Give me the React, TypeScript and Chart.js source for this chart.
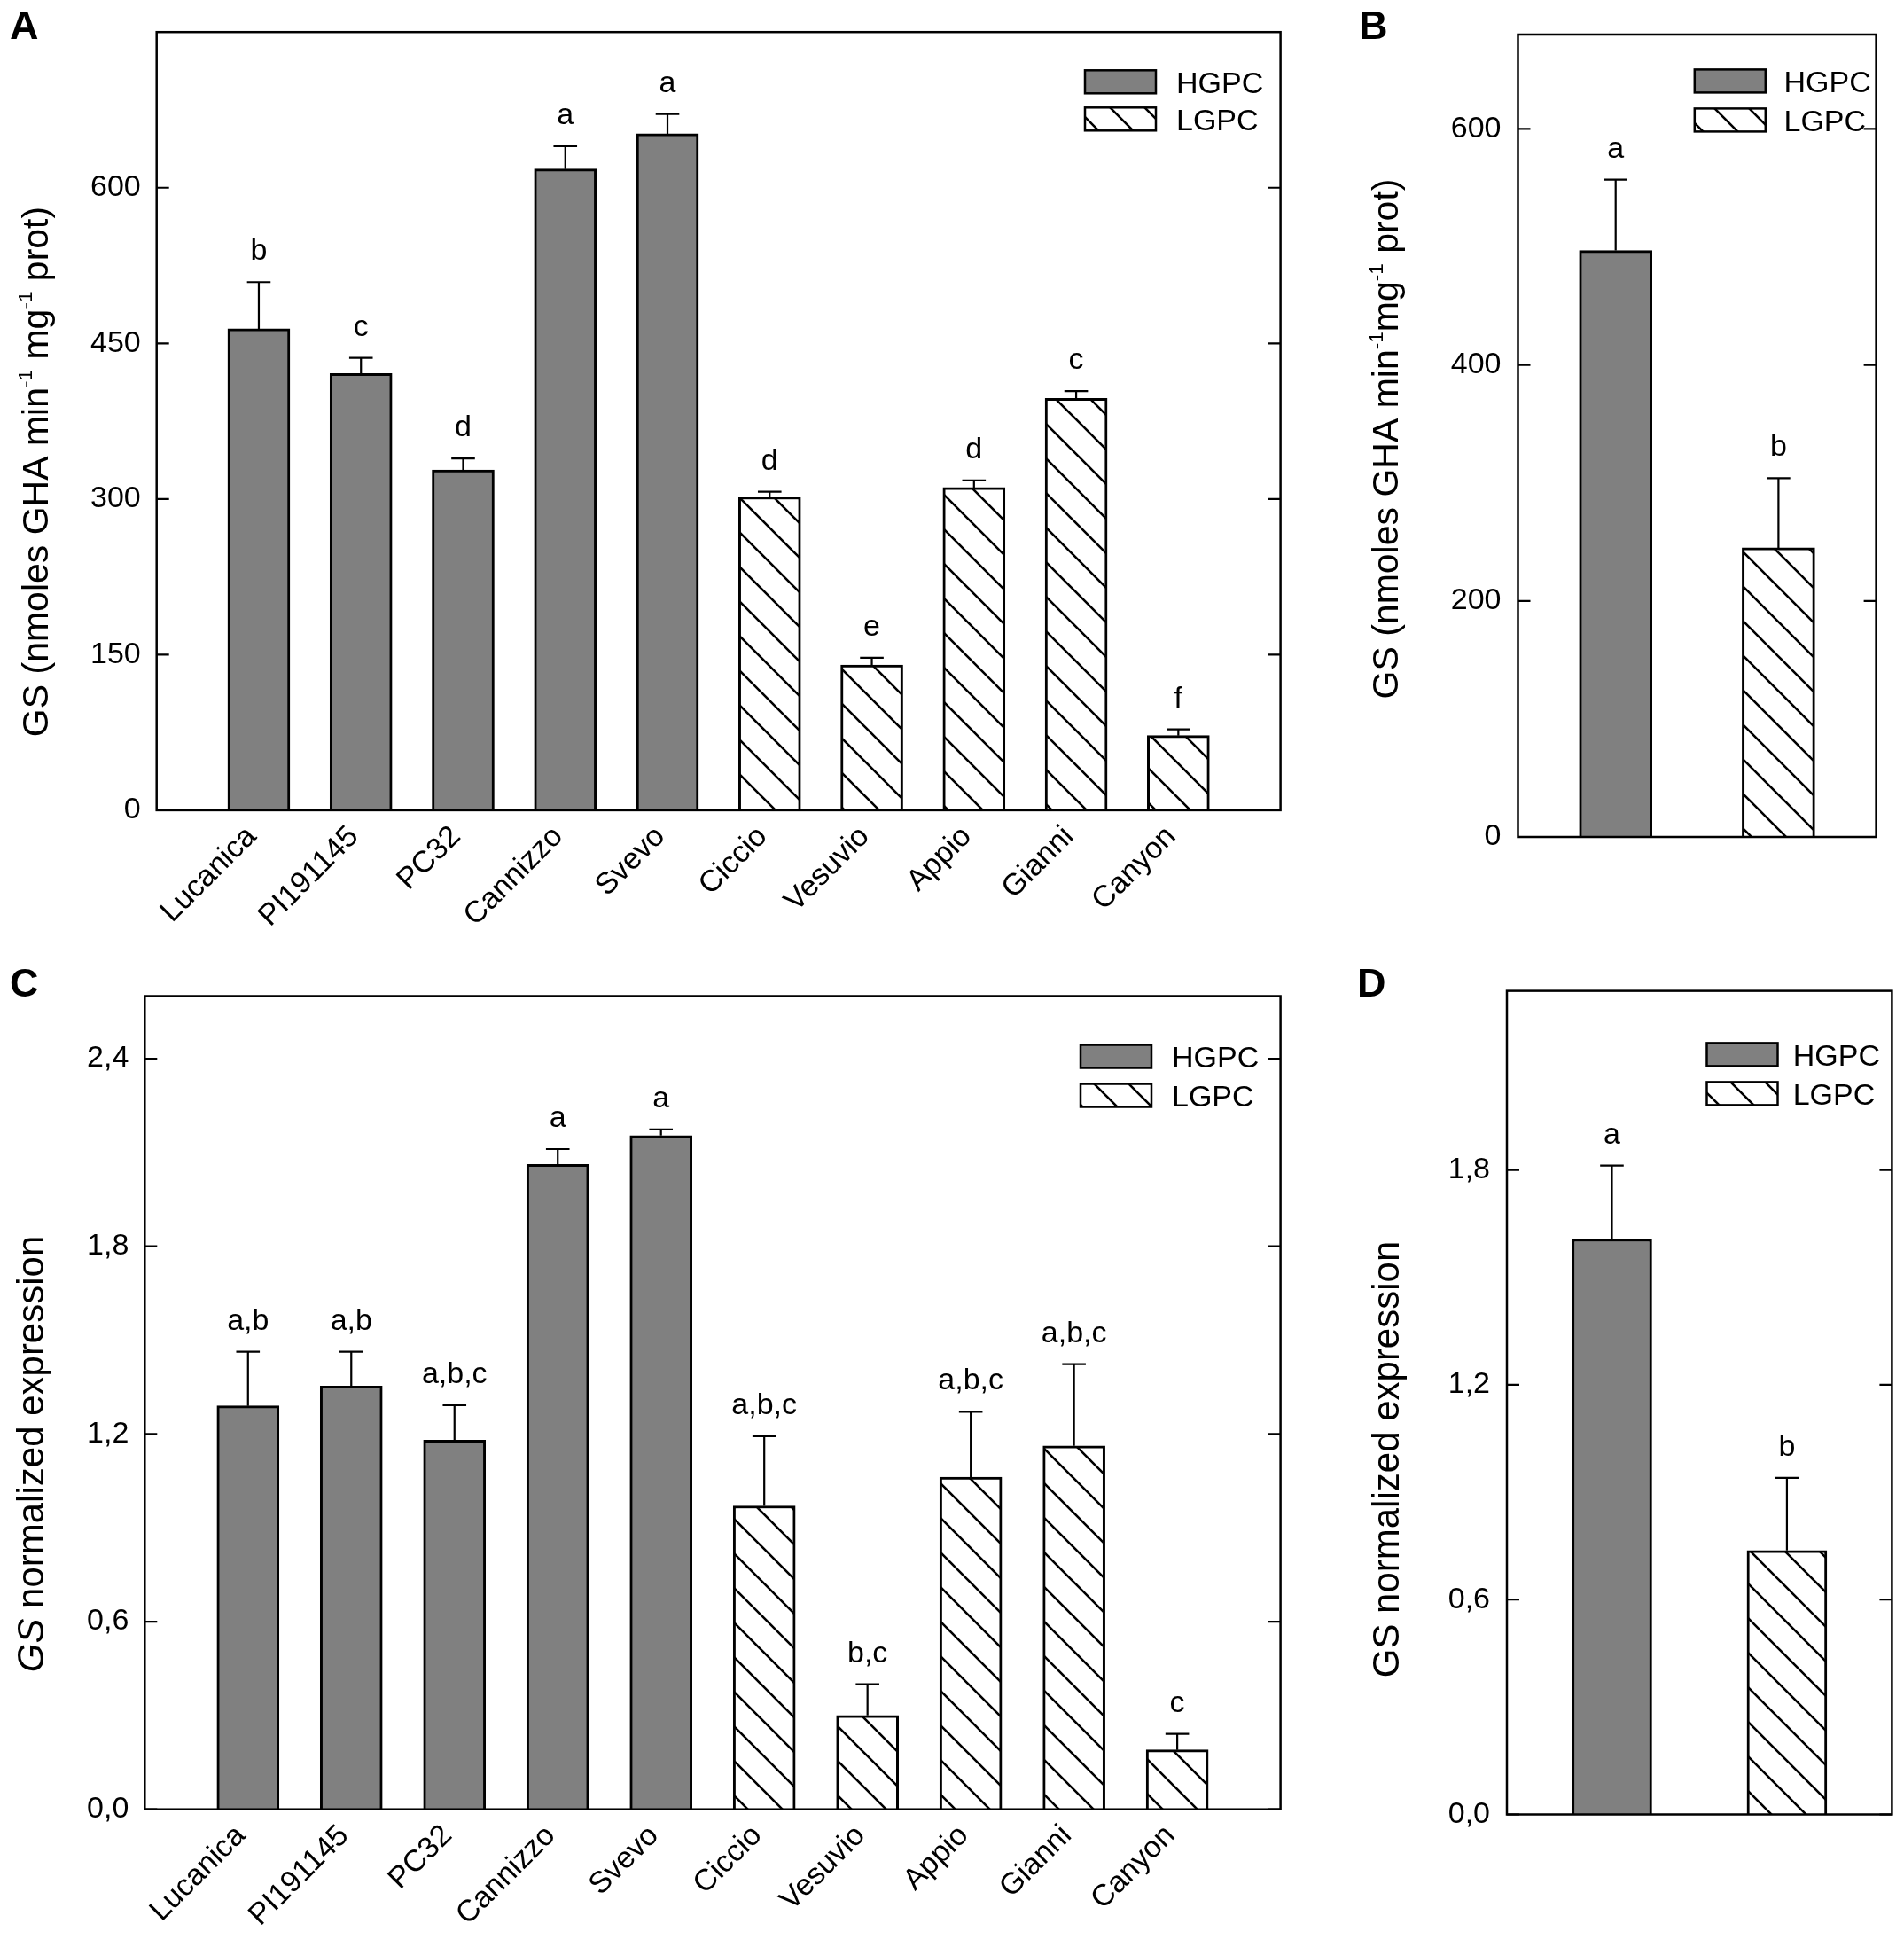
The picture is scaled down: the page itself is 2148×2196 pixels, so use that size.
import React, { useEffect, useRef } from 'react';
import { Chart, registerables } from 'chart.js';

Chart.register(...registerables);

// ---------------- data ----------------
const CULTIVARS = ['Lucanica', 'PI191145', 'PC32', 'Cannizzo', 'Svevo', 'Ciccio', 'Vesuvio', 'Appio', 'Gianni', 'Canyon'];
const CULTIVAR_GROUP = ['HGPC', 'HGPC', 'HGPC', 'HGPC', 'HGPC', 'LGPC', 'LGPC', 'LGPC', 'LGPC', 'LGPC'];
const GROUPS = ['HGPC', 'LGPC'];

// Panel A: GS activity per cultivar
const GS_ACTIVITY = [464, 421, 328, 618, 652, 302, 140, 311, 397, 72];
const GS_ACTIVITY_SE = [45, 15, 11, 22, 19, 5, 7, 7, 7, 6];
const GS_ACTIVITY_LETTERS = ['b', 'c', 'd', 'a', 'a', 'd', 'e', 'd', 'c', 'f'];

// Panel B: GS activity per group
const GS_ACTIVITY_GROUP = [497, 245];
const GS_ACTIVITY_GROUP_SE = [60, 59];
const GS_ACTIVITY_GROUP_LETTERS = ['a', 'b'];

// Panel C: GS normalized expression per cultivar
const GS_EXPR = [1.29, 1.353, 1.18, 2.062, 2.154, 0.97, 0.30, 1.062, 1.162, 0.19];
const GS_EXPR_SE = [0.173, 0.11, 0.112, 0.049, 0.02, 0.223, 0.10, 0.209, 0.261, 0.051];
const GS_EXPR_LETTERS = ['a,b', 'a,b', 'a,b,c', 'a', 'a', 'a,b,c', 'b,c', 'a,b,c', 'a,b,c', 'c'];

// Panel D: GS normalized expression per group
const GS_EXPR_GROUP = [1.607, 0.737];
const GS_EXPR_GROUP_SE = [0.205, 0.203];
const GS_EXPR_GROUP_LETTERS = ['a', 'b'];

// axis ticks
const TICKS_A = [0, 150, 300, 450, 600];
const TICK_LABELS_A = ['0', '150', '300', '450', '600'];
const TICKS_B = [0, 200, 400, 600];
const TICK_LABELS_B = ['0', '200', '400', '600'];
const TICKS_C = [0, 0.6, 1.2, 1.8, 2.4];
const TICK_LABELS_C = ['0,0', '0,6', '1,2', '1,8', '2,4'];
const TICKS_D = [0, 0.6, 1.2, 1.8];
const TICK_LABELS_D = ['0,0', '0,6', '1,2', '1,8'];

// ---------------- styling ----------------
const FONT = '"Liberation Sans", Arial, Helvetica, sans-serif';
const GRAY = '#808080';

function makeHatch(): CanvasPattern | string {
  const s = 39;
  const c = document.createElement('canvas');
  c.width = s;
  c.height = s;
  const g = c.getContext('2d');
  if (!g) return '#fff';
  g.fillStyle = '#fff';
  g.fillRect(0, 0, s, s);
  g.strokeStyle = '#000';
  g.lineWidth = 2.6;
  g.beginPath();
  g.moveTo(-s, 0); g.lineTo(s, 2 * s);
  g.moveTo(0, 0); g.lineTo(s, s);
  g.moveTo(0, -s); g.lineTo(2 * s, s);
  g.stroke();
  return g.createPattern(c, 'repeat') || '#fff';
}

type Seg = { t: string; sup?: boolean; italic?: boolean };

type Spec = {
  key: string;
  left: number; top: number; w: number; h: number;
  yWidth: number; padTop: number; padRight: number; xHeight: number;
  yMax: number; ticks: number[]; tickLabels: string[]; tickPad: number;
  kind: 'cultivar' | 'group';
  values: number[]; errors: number[]; letters: string[];
  barThickness: number;
  legend: { x: number; y: number; pitch: number; textX: number };
  title: { x: number; y: number; size: number; segs: Seg[] };
  panel: { t: string; x: number; y: number };
};

const SPECS: Spec[] = [
  {
    key: 'A', left: 0, top: 0, w: 1500, h: 1098,
    yWidth: 176.7, padTop: 36.2, padRight: 55.4, xHeight: 184.1,
    yMax: 750, ticks: TICKS_A, tickLabels: TICK_LABELS_A, tickPad: 18,
    kind: 'cultivar', values: GS_ACTIVITY, errors: GS_ACTIVITY_SE, letters: GS_ACTIVITY_LETTERS,
    barThickness: 70,
    legend: { x: 1224, y: 79.3, pitch: 42, textX: 1327 },
    title: { x: 53.5, y: 532, size: 41, segs: [{ t: 'GS (nmoles GHA min' }, { t: '-1', sup: true }, { t: ' mg' }, { t: '-1', sup: true }, { t: ' prot)' }] },
    panel: { t: 'A', x: 11, y: 44 },
  },
  {
    key: 'B', left: 1500, top: 0, w: 648, h: 1098,
    yWidth: 212.5, padTop: 39, padRight: 31.4, xHeight: 154,
    yMax: 680, ticks: TICKS_B, tickLabels: TICK_LABELS_B, tickPad: 19,
    kind: 'group', values: GS_ACTIVITY_GROUP, errors: GS_ACTIVITY_GROUP_SE, letters: GS_ACTIVITY_GROUP_LETTERS,
    barThickness: 82,
    legend: { x: 411.8, y: 78.4, pitch: 44, textX: 512.5 },
    title: { x: 77, y: 495, size: 41, segs: [{ t: 'GS (nmoles GHA min' }, { t: '-1', sup: true }, { t: 'mg' }, { t: '-1', sup: true }, { t: ' prot)' }] },
    panel: { t: 'B', x: 33, y: 44 },
  },
  {
    key: 'C', left: 0, top: 1080, w: 1500, h: 1116,
    yWidth: 163.3, padTop: 43.5, padRight: 55.4, xHeight: 155.3,
    yMax: 2.6, ticks: TICKS_C, tickLabels: TICK_LABELS_C, tickPad: 18,
    kind: 'cultivar', values: GS_EXPR, errors: GS_EXPR_SE, letters: GS_EXPR_LETTERS,
    barThickness: 70,
    legend: { x: 1219, y: 98.5, pitch: 44, textX: 1322 },
    title: { x: 49, y: 560, size: 42, segs: [{ t: 'GS', italic: true }, { t: ' normalized expression' }] },
    panel: { t: 'C', x: 11, y: 44 },
  },
  {
    key: 'D', left: 1500, top: 1080, w: 648, h: 1116,
    yWidth: 200, padTop: 37.6, padRight: 13.6, xHeight: 149.5,
    yMax: 2.3, ticks: TICKS_D, tickLabels: TICK_LABELS_D, tickPad: 19,
    kind: 'group', values: GS_EXPR_GROUP, errors: GS_EXPR_GROUP_SE, letters: GS_EXPR_GROUP_LETTERS,
    barThickness: 90,
    legend: { x: 425.5, y: 96.4, pitch: 44, textX: 522.7 },
    title: { x: 78, y: 566, size: 42, segs: [{ t: 'GS normalized expression' }] },
    panel: { t: 'D', x: 31, y: 44 },
  },
];

function makeDecor(spec: Spec, fills: Record<string, any>) {
  return {
    id: 'decor' + spec.key,
    afterDatasetsDraw(chart: any) {
      const ctx: CanvasRenderingContext2D = chart.ctx;
      const area = chart.chartArea;
      const ys = chart.scales.y;
      const meta = chart.getDatasetMeta(0);
      const offset = spec.kind === 'cultivar' ? 1 : 0;
      ctx.save();
      ctx.strokeStyle = '#000';
      ctx.fillStyle = '#000';
      ctx.lineCap = 'butt';

      // error bars and significance letters
      for (let i = 0; i < spec.values.length; i++) {
        const el = meta.data[i + offset];
        if (!el) continue;
        const x = el.x;
        const y0 = ys.getPixelForValue(spec.values[i]);
        const y1 = ys.getPixelForValue(spec.values[i] + spec.errors[i]);
        ctx.lineWidth = 2.2;
        ctx.beginPath();
        ctx.moveTo(x, y0);
        ctx.lineTo(x, y1);
        ctx.moveTo(x - 13.3, y1);
        ctx.lineTo(x + 13.3, y1);
        ctx.stroke();
        ctx.font = `34px ${FONT}`;
        ctx.textAlign = 'center';
        ctx.textBaseline = 'alphabetic';
        ctx.fillText(spec.letters[i], x, y1 - 25);
      }

      // frame
      ctx.lineWidth = 2.5;
      ctx.strokeRect(area.left, area.top, area.right - area.left, area.bottom - area.top);

      // inward ticks on both sides
      ctx.lineWidth = 2.2;
      ys.ticks.forEach((t: any) => {
        const py = ys.getPixelForValue(t.value);
        ctx.beginPath();
        ctx.moveTo(area.left, py);
        ctx.lineTo(area.left + 14, py);
        ctx.moveTo(area.right, py);
        ctx.lineTo(area.right - 14, py);
        ctx.stroke();
      });

      // legend
      const lg = spec.legend;
      GROUPS.forEach((g, k) => {
        const by = lg.y + k * lg.pitch;
        ctx.fillStyle = fills[g];
        ctx.fillRect(lg.x, by, 80, 26);
        ctx.lineWidth = 2.5;
        ctx.strokeStyle = '#000';
        ctx.strokeRect(lg.x, by, 80, 26);
        ctx.fillStyle = '#000';
        ctx.font = `34px ${FONT}`;
        ctx.textAlign = 'left';
        ctx.textBaseline = 'alphabetic';
        ctx.fillText(g, lg.textX, by + 13 + 12.2);
      });

      // y title with superscripts
      const tt = spec.title;
      const supSize = tt.size * 0.55;
      const fontOf = (s: Seg) => `${s.italic ? 'italic ' : ''}${s.sup ? supSize : tt.size}px ${FONT}`;
      let total = 0;
      tt.segs.forEach((s) => { ctx.font = fontOf(s); total += ctx.measureText(s.t).width; });
      ctx.save();
      ctx.translate(tt.x, tt.y);
      ctx.rotate(-Math.PI / 2);
      ctx.textAlign = 'left';
      ctx.textBaseline = 'alphabetic';
      let cx = -total / 2;
      tt.segs.forEach((s) => {
        ctx.font = fontOf(s);
        ctx.fillText(s.t, cx, s.sup ? -tt.size * 0.42 : 0);
        cx += ctx.measureText(s.t).width;
      });
      ctx.restore();

      // panel letter
      ctx.font = `bold 45px ${FONT}`;
      ctx.textAlign = 'left';
      ctx.textBaseline = 'alphabetic';
      ctx.fillText(spec.panel.t, spec.panel.x, spec.panel.y);

      ctx.restore();
    },
  };
}

function buildConfig(spec: Spec): any {
  const hatch = makeHatch();
  const fills: Record<string, any> = { HGPC: GRAY, LGPC: hatch };
  const tickFont = { family: FONT, size: 34 };

  let labels: string[] | undefined;
  let data: any[];
  let colors: any[];
  let xScale: any;

  if (spec.kind === 'cultivar') {
    labels = ['', ...CULTIVARS, ''];
    data = [null, ...spec.values, null];
    colors = ['#fff', ...CULTIVAR_GROUP.map((g) => fills[g]), '#fff'];
    xScale = {
      type: 'category',
      offset: false,
      grid: { display: false, drawTicks: false, offset: false },
      border: { display: false },
      ticks: {
        autoSkip: false, minRotation: 45, maxRotation: 45,
        font: tickFont, color: '#000', padding: 10, labelOffset: -8,
      },
      afterFit: (s: any) => { s.height = spec.xHeight; s.paddingLeft = 0; s.paddingRight = 0; },
    };
  } else {
    data = spec.values.map((v, i) => ({ x: i, y: v }));
    colors = GROUPS.map((g) => fills[g]);
    xScale = {
      type: 'linear', min: -0.6, max: 1.6,
      offset: false,
      grid: { display: false, drawTicks: false, offset: false },
      border: { display: false },
      ticks: { display: false },
      afterFit: (s: any) => { s.height = spec.xHeight; s.paddingLeft = 0; s.paddingRight = 0; },
    };
  }

  return {
    type: 'bar',
    data: {
      labels,
      datasets: [{
        data,
        backgroundColor: colors,
        borderColor: '#000',
        borderWidth: 3,
        barThickness: spec.barThickness,
      }],
    },
    options: {
      animation: false,
      responsive: false,
      devicePixelRatio: 1,
      events: [],
      layout: { padding: { left: 0, top: spec.padTop, right: spec.padRight, bottom: 0 } },
      plugins: { legend: { display: false }, tooltip: { enabled: false }, title: { display: false } },
      scales: {
        x: xScale,
        y: {
          type: 'linear', min: 0, max: spec.yMax,
          grid: { display: false, drawTicks: false },
          border: { display: false },
          afterBuildTicks: (s: any) => { s.ticks = spec.ticks.map((v) => ({ value: v })); },
          afterFit: (s: any) => { s.width = spec.yWidth; s.paddingTop = 0; s.paddingBottom = 0; },
          ticks: {
            font: tickFont, color: '#000', padding: spec.tickPad,
            callback: (_v: any, i: number) => spec.tickLabels[i],
          },
        },
      },
    },
    plugins: [makeDecor(spec, fills)],
  };
}

function Panel({ spec }: { spec: Spec }) {
  const ref = useRef<HTMLCanvasElement>(null);
  useEffect(() => {
    if (!ref.current) return;
    const chart = new Chart(ref.current, buildConfig(spec));
    return () => chart.destroy();
  }, [spec]);
  return (
    <canvas
      ref={ref}
      width={spec.w}
      height={spec.h}
      style={{ position: 'absolute', left: spec.left, top: spec.top, width: spec.w, height: spec.h }}
    />
  );
}

export default function App() {
  useEffect(() => {
    document.body.style.margin = '0';
    document.body.style.background = '#fff';
  }, []);
  return (
    <div style={{ position: 'absolute', left: 0, top: 0, width: 2148, height: 2196, background: '#fff', overflow: 'hidden' }}>
      {SPECS.map((s) => <Panel key={s.key} spec={s} />)}
    </div>
  );
}
